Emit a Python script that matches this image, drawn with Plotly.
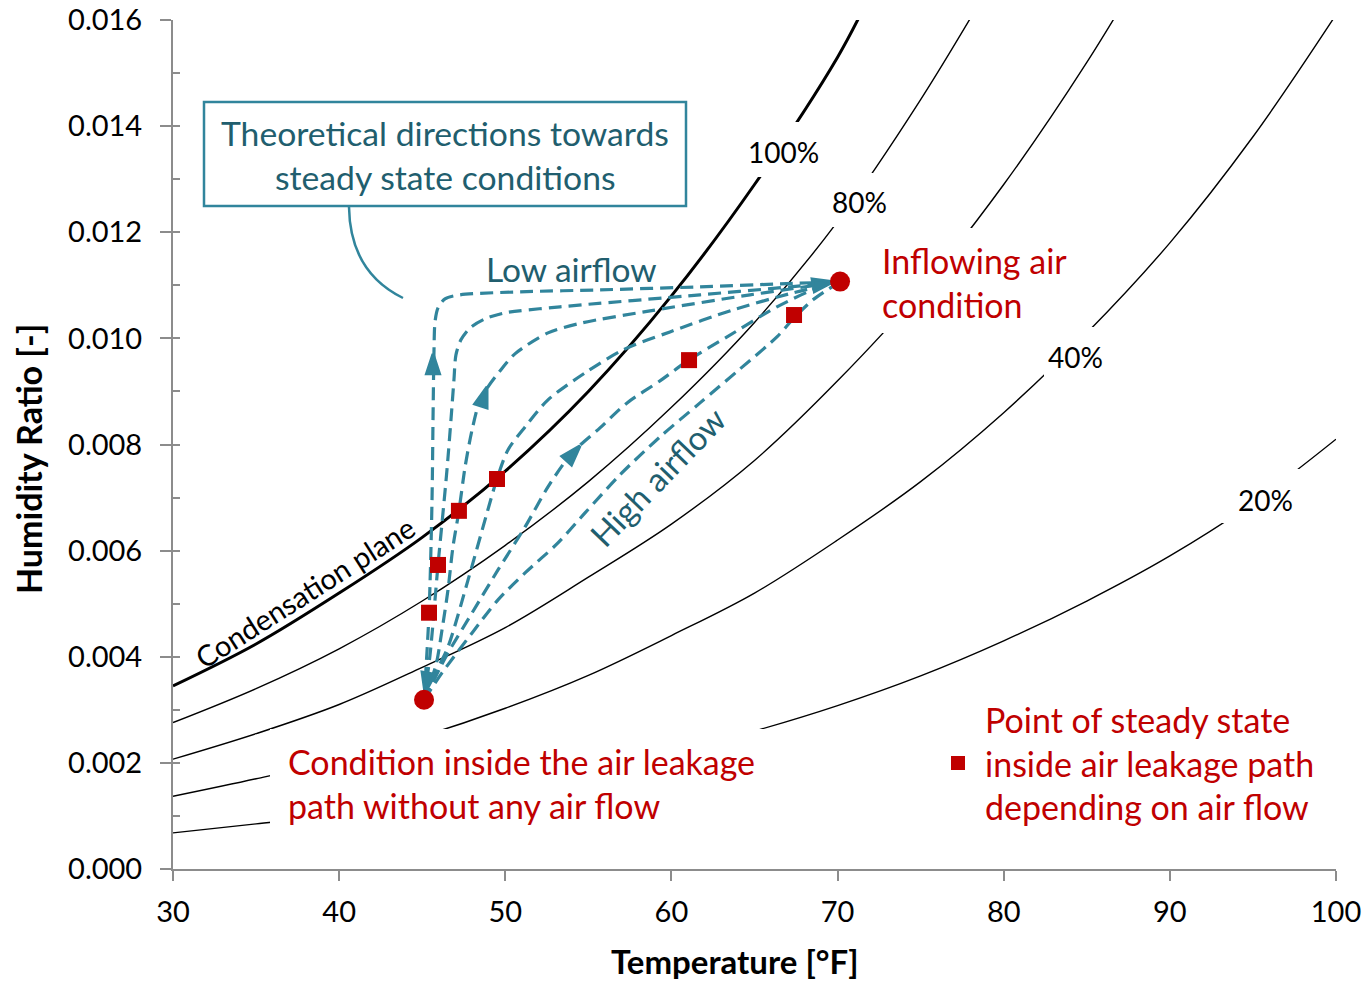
import plotly.graph_objects as go

# ---------------- data ----------------
# Relative-humidity curves: temperature [°F] and humidity ratio [-]
rh100_T = [30, 35, 40, 45, 50, 55, 60, 65, 70, 72]
rh100_W = [0.00345, 0.00424, 0.0052, 0.00625, 0.0075, 0.0090, 0.0108, 0.0129, 0.0153, 0.0165]
rh80_T = [30, 35, 40, 45, 50, 55, 60, 65, 70, 75, 80]
rh80_W = [0.00276, 0.0034, 0.00415, 0.00505, 0.0061, 0.0073, 0.0087, 0.0103, 0.0122, 0.0145, 0.0171]
rh60_T = [30, 35, 40, 45, 50, 55, 60, 65, 70, 75, 80, 85, 90]
rh60_W = [0.00207, 0.00255, 0.0031, 0.0038, 0.00455, 0.0055, 0.0065, 0.0077, 0.0092, 0.0109, 0.0129, 0.0152, 0.0178]
rh40_T = [30, 35, 40, 45, 50, 55, 60, 65, 70, 75, 80, 85, 90, 95, 100]
rh40_W = [0.00137, 0.0017, 0.00206, 0.0025, 0.00303, 0.00365, 0.0044, 0.0052, 0.0062, 0.0073, 0.0086, 0.0101, 0.0118, 0.0138, 0.0161]
rh20_T = [30, 35, 40, 45, 50, 55, 60, 65, 70, 75, 80, 85, 90, 95, 100]
rh20_W = [0.00068, 0.00085, 0.00103, 0.00125, 0.0015, 0.00182, 0.00218, 0.0026, 0.00308, 0.00364, 0.0043, 0.00505, 0.0059, 0.0069, 0.0081]

# Dashed paths from the no-flow condition to the inflowing-air condition
pathA_T = [45.11, 45.41, 45.59, 45.65, 45.71, 45.77, 45.95, 46.37, 47.27, 50.89, 55.70, 61.72, 66.54, 70.15]
pathA_W = [0.003186, 0.004826, 0.006956, 0.008464, 0.009783, 0.010311, 0.010575, 0.010745, 0.010820, 0.010877, 0.010914, 0.010971, 0.011027, 0.011065]
pathB_T = [45.11, 45.47, 45.95, 46.25, 46.49, 46.73, 46.91, 47.03, 47.33, 47.88, 48.78, 49.98, 53.29, 61.72, 67.14, 70.15]
pathB_W = [0.003186, 0.004034, 0.005730, 0.006711, 0.007521, 0.008464, 0.009218, 0.009689, 0.009972, 0.010198, 0.010368, 0.010481, 0.010594, 0.010820, 0.010971, 0.011065]
pathC_T = [45.11, 45.83, 46.19, 46.55, 46.85, 47.21, 47.58, 48.00, 48.48, 48.96, 49.68, 50.58, 52.57, 54.62, 58.71, 64.73, 70.15]
pathC_W = [0.003186, 0.003845, 0.004505, 0.005259, 0.006070, 0.006748, 0.007578, 0.008275, 0.008841, 0.009086, 0.009387, 0.009708, 0.010104, 0.010292, 0.010518, 0.010820, 0.011065]
pathD_T = [45.11, 45.83, 46.55, 47.76, 48.90, 49.50, 50.16, 51.19, 52.57, 54.80, 57.09, 59.91, 63.71, 67.32, 70.15]
pathD_W = [0.003186, 0.003713, 0.004185, 0.005448, 0.006711, 0.007352, 0.007898, 0.008332, 0.008841, 0.009350, 0.009783, 0.010122, 0.010537, 0.010858, 0.011065]
pathE_T = [45.11, 46.07, 46.55, 48.00, 49.56, 51.19, 52.57, 54.02, 55.70, 57.33, 59.31, 61.06, 63.35, 66.35, 68.94, 70.15]
pathE_W = [0.003186, 0.003789, 0.004072, 0.004826, 0.005636, 0.006447, 0.007201, 0.007842, 0.008313, 0.008784, 0.009199, 0.009595, 0.010028, 0.010594, 0.010971, 0.011065]
pathF_T = [45.11, 46.19, 48.00, 49.56, 51.19, 53.17, 54.80, 56.90, 59.31, 61.72, 64.13, 66.35, 67.38, 68.52, 70.15]
pathF_W = [0.003186, 0.003695, 0.004449, 0.005071, 0.005580, 0.006145, 0.006711, 0.007427, 0.008143, 0.008784, 0.009425, 0.010028, 0.010386, 0.010726, 0.011065]

# Arrow heads on the dashed paths (tip position and direction in degrees)
arrow_T = [45.65, 48.90, 54.50, 69.72, 45.17]
arrow_W = [0.009708, 0.009086, 0.007974, 0.011065, 0.003318]
arrow_dir = [0, 18, 42, 80, 190]

# Steady-state points and end conditions
steady_T = [45.41, 45.95, 47.21, 49.50, 61.06, 67.38]
steady_W = [0.00483, 0.00573, 0.00675, 0.00735, 0.00959, 0.01044]
noflow_T, noflow_W = [45.11], [0.00319]
inflow_T, inflow_W = [70.15], [0.01107]

x_ticks = [30, 40, 50, 60, 70, 80, 90, 100]
y_ticks = [0.000, 0.002, 0.004, 0.006, 0.008, 0.010, 0.012, 0.014, 0.016]
y_tick_labels = ["0.000", "0.002", "0.004", "0.006", "0.008", "0.010", "0.012", "0.014", "0.016"]
y_minor = [0.001, 0.003, 0.005, 0.007, 0.009, 0.011, 0.013, 0.015]

# ---------------- styling ----------------
FONT = "Lato"
TEAL = "#31859C"
TEAL_TXT = "#215E6E"
RED = "#C00000"
GREY = "#8C8C8C"

# plot area in pixels (layout helpers only)
L, R, T_, B = 173, 1336, 20, 869
XR = (30, 100)
YR = (0.0, 0.016)


def px2x(p):
    return XR[0] + (p - L) / (R - L) * (XR[1] - XR[0])


def px2y(p):
    return YR[0] + (B - p) / (B - T_) * (YR[1] - YR[0])


fig = go.Figure()

for tx, wy, w in [(rh100_T, rh100_W, 3), (rh80_T, rh80_W, 1.4), (rh60_T, rh60_W, 1.4),
                  (rh40_T, rh40_W, 1.4), (rh20_T, rh20_W, 1.4)]:
    fig.add_trace(go.Scatter(x=tx, y=wy, mode="lines", line=dict(color="black", width=w, shape="spline"),
                             hoverinfo="skip"))

for tx, wy in [(pathA_T, pathA_W), (pathB_T, pathB_W), (pathC_T, pathC_W),
               (pathD_T, pathD_W), (pathE_T, pathE_W), (pathF_T, pathF_W)]:
    fig.add_trace(go.Scatter(x=tx, y=wy, mode="lines",
                             line=dict(color=TEAL, width=3.2, dash="13px,7px", shape="spline", smoothing=0.8),
                             hoverinfo="skip"))

fig.add_trace(go.Scatter(x=arrow_T, y=arrow_W, mode="markers",
                         marker=dict(symbol="arrow", size=21, color=TEAL, angle=arrow_dir,
                                     line=dict(width=3, color=TEAL))))

fig.add_trace(go.Scatter(x=steady_T, y=steady_W, mode="markers",
                         marker=dict(symbol="square", size=16, color=RED, line=dict(width=0))))
fig.add_trace(go.Scatter(x=noflow_T + inflow_T, y=noflow_W + inflow_W, mode="markers",
                         marker=dict(symbol="circle", size=20, color=RED, line=dict(width=0))))

# invisible trace for the overlay axis used for inner major ticks
fig.add_trace(go.Scatter(x=[None], y=[None], yaxis="y2", showlegend=False))

shapes = []
# white masks behind labels (hide the curves there)
for x0, x1, y0, y1 in [(745, 822, 122, 177), (828, 890, 173, 227), (1044, 1107, 327, 381),
                       (1215, 1305, 469, 523), (866, 1080, 228, 333), (270, 765, 729, 840)]:
    shapes.append(dict(type="rect", xref="x", yref="y", x0=px2x(x0), x1=px2x(x1), y0=px2y(y1), y1=px2y(y0),
                       fillcolor="white", line=dict(width=0), layer="above"))
# callout box
shapes.append(dict(type="rect", xref="x", yref="y", x0=px2x(204), x1=px2x(686), y0=px2y(206), y1=px2y(102),
                   fillcolor="white", line=dict(color=TEAL, width=2.5), layer="above"))
# callout pointer
shapes.append(dict(type="path", xref="x", yref="y", layer="above",
                   path=f"M {px2x(349)},{px2y(207)} Q {px2x(350)},{px2y(272)} {px2x(403)},{px2y(298)}",
                   line=dict(color=TEAL, width=2.5)))
# legend square
shapes.append(dict(type="rect", xref="x", yref="y", x0=px2x(951), x1=px2x(965), y0=px2y(770), y1=px2y(756),
                   fillcolor=RED, line=dict(width=0), layer="above"))

ann = []


def txt(text, xp, yp, color="black", size=28, xanchor="center", angle=0, bold=False):
    ann.append(dict(text=f"<b>{text}</b>" if bold else text, x=px2x(xp), y=px2y(yp), xref="x", yref="y",
                    showarrow=False, xanchor=xanchor, yanchor="middle", textangle=angle,
                    font=dict(family=FONT, size=size, color=color)))


txt("100%", 783, 152)
txt("80%", 859, 202)
txt("40%", 1075, 357)
txt("20%", 1265, 500)
txt("Theoretical directions towards", 445, 133, TEAL_TXT, 33.7)
txt("steady state conditions", 445, 177, TEAL_TXT, 33.7)
txt("Low airflow", 571, 269, TEAL_TXT, 33.5)
txt("High airflow", 657, 477, TEAL_TXT, 33, angle=-46)
txt("Condensation plane", 304, 592, "black", 29, angle=-32.5)
txt("Inflowing air", 880, 260, RED, 34, xanchor="left")
txt("condition", 880, 304, RED, 34, xanchor="left")
txt("Condition inside the air leakage", 286, 761, RED, 34, xanchor="left")
txt("path without any air flow", 286, 805, RED, 34, xanchor="left")
txt("Point of steady state", 983, 719, RED, 34, xanchor="left")
txt("inside air leakage path", 983, 763, RED, 34, xanchor="left")
txt("depending on air flow", 983, 806, RED, 34, xanchor="left")

# axis titles
ann.append(dict(text="<b>Humidity Ratio [-]</b>", xref="paper", yref="paper",
                x=(28 - L) / (R - L), y=(B - 459) / (B - T_), showarrow=False, textangle=-90,
                xanchor="center", yanchor="middle", font=dict(family=FONT, size=34, color="black")))
ann.append(dict(text="<b>Temperature [°F]</b>", xref="paper", yref="paper",
                x=(735 - L) / (R - L), y=(B - 961) / (B - T_), showarrow=False,
                xanchor="center", yanchor="middle", borderpad=0,
                font=dict(family=FONT, size=33, color="black")))

fig.update_layout(
    width=1367, height=982, margin=dict(l=L, r=1367 - R, t=T_, b=982 - B),
    paper_bgcolor="white", plot_bgcolor="white", showlegend=False,
    shapes=shapes, annotations=ann,
    xaxis=dict(range=list(XR), tickvals=x_ticks, ticks="outside", ticklen=10, tickwidth=2, tickcolor=GREY,
               showline=True, linecolor=GREY, linewidth=2, showgrid=False, zeroline=False,
               tickfont=dict(family=FONT, size=29, color="black"), automargin=False,
               ticklabelstandoff=6),
    yaxis=dict(range=list(YR), tickvals=y_ticks, ticktext=y_tick_labels, ticks="outside", ticklen=11,
               tickwidth=2, tickcolor=GREY, showline=True, linecolor=GREY, linewidth=2, showgrid=False,
               zeroline=False, tickfont=dict(family=FONT, size=29, color="black"), automargin=False,
               ticklabelstandoff=12,
               minor=dict(tickvals=y_minor, ticks="inside", ticklen=7, tickwidth=2, tickcolor=GREY)),
    yaxis2=dict(range=list(YR), overlaying="y", anchor="x", side="left", tickvals=y_ticks, ticks="inside",
                ticklen=7, tickwidth=2, tickcolor=GREY, showticklabels=False, showline=False, showgrid=False,
                zeroline=False),
)

fig.write_html("out.html")
